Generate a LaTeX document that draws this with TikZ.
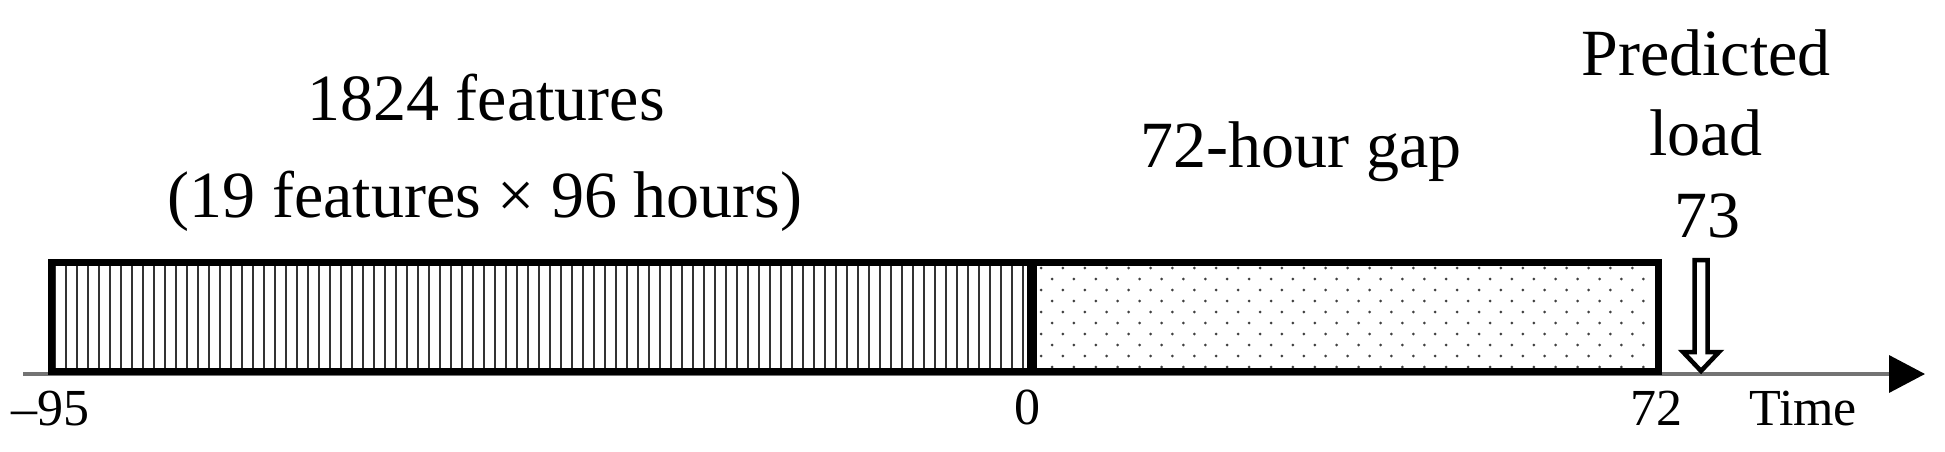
\documentclass[tikz,border=0pt]{standalone}
\usepackage{fontspec}
\setmainfont{Liberation Serif}
\usetikzlibrary{arrows.meta}
\begin{document}
\begin{tikzpicture}[x=1pt,y=-1pt,
  bigtext/.style={anchor=base,inner sep=0pt,font=\fontsize{66}{80}\selectfont},
  ticktext/.style={anchor=base,inner sep=0pt,font=\fontsize{52}{60}\selectfont},
  boxline/.style={line width=7pt,draw=black},
  stripe/.style={line width=2.8pt,draw=black!80},
  dotfill/.style={fill=black!75},
  axisline/.style={line width=3.5pt,draw=black!55},
  hollowarrow/.style={line width=4.5pt,draw=black,fill=white,line join=miter}
]
\useasboundingbox (0,0) rectangle (1945,452);
% coordinates
\coordinate (bL) at (51,262);
\coordinate (bM) at (1032,371);
\coordinate (bMt) at (1032,262);
\coordinate (bR) at (1658,371);
\coordinate (axs) at (23,374);
\coordinate (axe) at (1925,374);
% axis
\draw[axisline,-{Triangle[length=36pt,width=37pt,color=black]}] (axs) -- (axe);
% stripes
\foreach \i in {0,...,88} {
  \draw[stripe] (55+11*\i,264) -- (55+11*\i,369);
}
% dots
\foreach \j in {0,2,4,6,8} {
  \foreach \i in {0,...,27} {
    \fill[dotfill] (1041+21.9*\i,268+11*\j) circle (1.5);
  }
}
\foreach \j in {1,3,5,7,9} {
  \foreach \i in {0,...,27} {
    \fill[dotfill] (1052+21.9*\i,268+11*\j) circle (1.5);
  }
}
% boxes
\draw[boxline] (bL) rectangle (bM);
\draw[boxline] (bMt) rectangle (bR);
\draw[line width=10pt] (bMt) -- (bM);
% hollow arrow
\draw[hollowarrow] (1694.5,260) -- (1707.5,260) -- (1707.5,352) -- (1719,352)
  -- (1701,371) -- (1683,352) -- (1694.5,352) -- cycle;
% texts
\node[bigtext] (t1) at (486,120) {1824 features};
\node[bigtext] (t2) at (485,217) {(19 features × 96 hours)};
\node[bigtext] (t3) at (1301,167) {72-hour gap};
\node[bigtext] (t4) at (1706,75) {Predicted};
\node[bigtext] (t5) at (1706,155) {load};
\node[bigtext] (t6) at (1707,237) {73};
\node[ticktext] (l1) at (51,425) {–95};
\node[ticktext] (l2) at (1027,424) {0};
\node[ticktext] (l3) at (1656,425) {72};
\node[ticktext] (l4) at (1803,425) {Time};
\end{tikzpicture}
\end{document}
